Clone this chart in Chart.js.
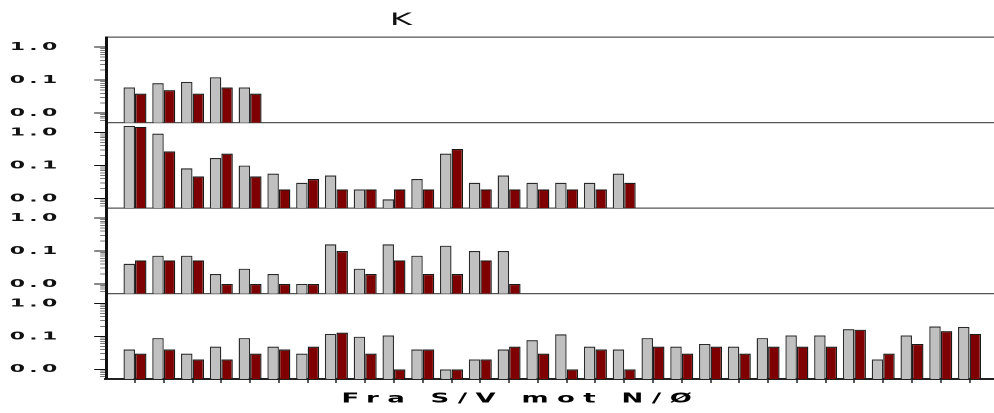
<!DOCTYPE html>
<html lang="no">
<head>
<meta charset="utf-8">
<title>K</title>
<script src="https://cdn.jsdelivr.net/npm/chart.js@4.4.1/dist/chart.umd.min.js"></script>
<style>
  html, body { margin: 0; padding: 0; background: #fff; overflow: hidden; }
  /* the original picture is stretched 2x sideways, so lay out at half width */
  #wrap { position: absolute; left: 0; top: 0; width: 497px; height: 413px; transform: scaleX(2); transform-origin: 0 0; }
</style>
</head>
<body>
<div id="wrap"><canvas id="chart" width="497" height="413"></canvas></div>
<script>
"use strict";

// positions along the coast, from S/W towards N/E
const positions = [0, 1, 2, 3, 4, 5, 6, 7, 8, 9, 10, 11, 12, 13, 14, 15, 16, 17, 18, 19, 20, 21, 22, 23, 24, 25, 26, 27, 28, 29];

// panel 1
const panel1Grey = [0.060, 0.081, 0.089, 0.123, 0.060];
const panel1Red = [0.039, 0.050, 0.039, 0.060, 0.039];

// panel 2
const panel2Grey = [1.6, 0.93, 0.083, 0.17, 0.10, 0.057, 0.030, 0.050, 0.019, 0.0095, 0.039, 0.23, 0.030, 0.050, 0.030, 0.030, 0.030, 0.057];
const panel2Red = [1.5, 0.27, 0.047, 0.23, 0.047, 0.019, 0.039, 0.019, 0.019, 0.019, 0.019, 0.32, 0.019, 0.019, 0.019, 0.019, 0.019, 0.030];

// panel 3
const panel3Grey = [0.041, 0.072, 0.072, 0.020, 0.029, 0.020, 0.010, 0.16, 0.029, 0.16, 0.072, 0.145, 0.10, 0.10];
const panel3Red = [0.052, 0.052, 0.052, 0.010, 0.010, 0.010, 0.010, 0.10, 0.020, 0.052, 0.020, 0.020, 0.052, 0.010];

// panel 4
const panel4Grey = [0.040, 0.089, 0.030, 0.049, 0.089, 0.049, 0.030, 0.12, 0.098, 0.107, 0.040, 0.010, 0.020, 0.040, 0.077, 0.116, 0.049, 0.040, 0.089, 0.049, 0.059, 0.049, 0.089, 0.107, 0.107, 0.166, 0.020, 0.107, 0.20, 0.195];
const panel4Red = [0.030, 0.040, 0.020, 0.020, 0.030, 0.040, 0.049, 0.13, 0.030, 0.010, 0.040, 0.010, 0.020, 0.049, 0.030, 0.010, 0.040, 0.010, 0.049, 0.030, 0.049, 0.030, 0.049, 0.049, 0.049, 0.16, 0.030, 0.059, 0.145, 0.12];

// y axis ticks (log scale)
const yTicks = [0.01, 0.1, 1];
const yTickLabels = ["0.0", "0.1", "1.0"];
const yMinorTicks = [0.006, 0.007, 0.008, 0.009, 0.02, 0.03, 0.04, 0.05, 0.06, 0.07, 0.08, 0.09, 0.2, 0.3, 0.4, 0.5, 0.6, 0.7, 0.8, 0.9];

const titleText = "K";
const xLabel = "Fra S/V mot N/Ø";

// layout, in half-width units
const FONT = "'DejaVu Sans', 'Liberation Sans', Arial, sans-serif";
const AXIS_WIDTH = 53.1;
const Y_MIN = 0.0051;
const Y_MAX = 2.0;
const X_MIN = -1;
const X_MAX = 29.85;
const textCenters = { [titleText]: 200.5, [xLabel]: 260.4 };
const textSpacing = { [titleText]: "0px", [xLabel]: "4.2px" };

const allYTicks = yMinorTicks.concat(yTicks, [Y_MAX]).sort((a, b) => a - b);
const isMajor = (v) => yTicks.some((t) => Math.abs(t - v) < t * 1e-6);
const isTop = (v) => v >= Y_MAX;

const panels = [
  [panel1Grey, panel1Red],
  [panel2Grey, panel2Red],
  [panel3Grey, panel3Red],
  [panel4Grey, panel4Red],
];

// build the datasets, two per panel
const datasets = [];
panels.forEach((pair, k) => {
  const axis = "y" + (k + 1);
  datasets.push({
    label: "Serie 1",
    data: pair[0].map((v, i) => ({ x: positions[i], y: v })),
    yAxisID: axis,
    stack: "grey",
    backgroundColor: "#c0c0c0",
    borderColor: "#2a2a2a",
  });
  datasets.push({
    label: "Serie 2",
    data: pair[1].map((v, i) => ({ x: positions[i], y: v })),
    yAxisID: axis,
    stack: "red",
    backgroundColor: "#7f0000",
    borderColor: "#1a1a1a",
  });
});

// one log axis per panel, stacked on the left
function panelAxis(weight) {
  return {
    type: "logarithmic",
    position: "left",
    stack: "panels",
    stackWeight: 1,
    weight: weight,
    stacked: false,
    min: Y_MIN,
    max: Y_MAX,
    afterBuildTicks: (scale) => {
      scale.ticks = allYTicks.map((v) => ({ value: v }));
    },
    afterFit: (scale) => {
      scale.width = AXIS_WIDTH;
    },
    grid: {
      drawOnChartArea: true,
      lineWidth: (c) => (isTop(c.tick.value) ? 1.2 : 0),
      color: (c) => (isTop(c.tick.value) ? "#555" : "transparent"),
      tickLength: 6,
      tickWidth: 1,
      tickColor: (c) => (isTop(c.tick.value) ? "transparent" : isMajor(c.tick.value) ? "#111" : "#777"),
      tickBorderDash: (c) => (isMajor(c.tick.value) ? [] : [3, 3]),
      tickBorderDashOffset: (c) => (isMajor(c.tick.value) ? 0 : 3),
    },
    border: { color: "#111", width: 1.5 },
    ticks: {
      autoSkip: false,
      padding: 16.2,
      color: "#111",
      font: { family: FONT, size: 11, weight: "bold" },
      callback: (v) => {
        const i = yTicks.findIndex((t) => Math.abs(t - v) < t * 1e-6);
        return i >= 0 ? yTickLabels[i] : "";
      },
    },
  };
}

// moves the title and the axis label, and spreads their letters
const textPlacePlugin = {
  id: "textPlace",
  afterLayout(chart) {
    chart.boxes.forEach((box) => {
      const o = box.options;
      if (!o || typeof o.text !== "string" || !(o.text in textCenters)) return;
      const c = textCenters[o.text];
      box.left = c - 240;
      box.right = c + 240;
      box.width = 480;
      if (!box._spaced) {
        const draw = box.draw;
        const spacing = textSpacing[o.text];
        box.draw = function (area) {
          const ctx = this.ctx;
          const prev = ctx.letterSpacing;
          ctx.letterSpacing = spacing;
          draw.call(this, area);
          ctx.letterSpacing = prev;
        };
        box._spaced = true;
      }
    });
  },
  beforeDraw(chart) {
    chart.ctx.letterSpacing = "2.2px";
  },
};

const ctx = document.getElementById("chart").getContext("2d");
new Chart(ctx, {
  type: "bar",
  data: { datasets: datasets },
  plugins: [textPlacePlugin],
  options: {
    responsive: false,
    maintainAspectRatio: false,
    devicePixelRatio: 2,
    animation: false,
    layout: { padding: 0 },
    datasets: {
      bar: {
        categoryPercentage: 0.8,
        barPercentage: 1.0,
        borderWidth: { top: 1.2, left: 0.7, right: 0.7, bottom: 0 },
      },
    },
    scales: {
      x: {
        type: "linear",
        min: X_MIN,
        max: X_MAX,
        offset: false,
        afterBuildTicks: (scale) => {
          scale.ticks = positions.map((v) => ({ value: v }));
        },
        grid: { offset: false, drawOnChartArea: false, tickLength: 4, tickWidth: 0.75, tickColor: "#222" },
        border: { color: "#222", width: 2 },
        ticks: { display: false },
      },
      y1: panelAxis(4),
      y2: panelAxis(3),
      y3: panelAxis(2),
      y4: panelAxis(1),
    },
    plugins: {
      legend: { display: false },
      tooltip: { enabled: false },
      title: {
        display: true,
        text: titleText,
        color: "#111",
        font: { family: FONT, size: 17, weight: "normal" },
        padding: { top: 10.2, bottom: 6.7 },
      },
      subtitle: {
        display: true,
        position: "bottom",
        text: xLabel,
        color: "#000",
        font: { family: FONT, size: 13, weight: "bold" },
        padding: { top: 8.2, bottom: 6.2 },
      },
    },
  },
});
</script>
</body>
</html>
